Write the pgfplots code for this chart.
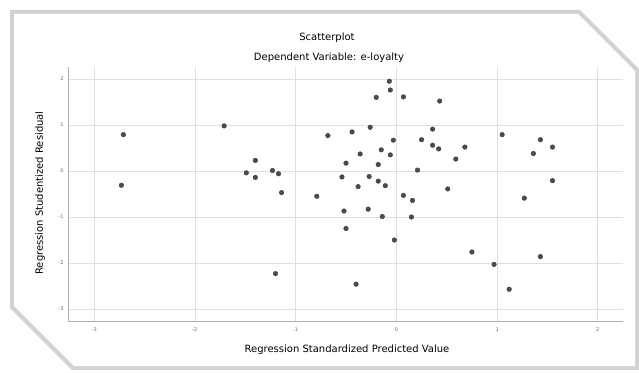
\documentclass[border=0pt]{standalone}
\usepackage{fontspec}
\setmainfont{DejaVu Sans}
\usepackage{pgfplots}
\usepackage{pgfplotstable}
\pgfplotsset{compat=1.18}
\pgfplotstableread{
x y
-2.71 0.79
-2.73 -0.31
-1.71 0.98
-1.40 0.23
-1.49 -0.04
-1.40 -0.14
-1.23 0.01
-1.17 -0.06
-1.14 -0.47
-1.20 -2.23
-0.79 -0.55
-0.68 0.77
-0.44 0.85
-0.50 0.17
-0.54 -0.13
-0.36 0.37
-0.38 -0.34
-0.52 -0.87
-0.50 -1.25
-0.40 -2.46
-0.26 0.95
-0.20 1.60
-0.07 1.95
-0.06 1.76
0.07 1.61
0.43 1.52
-0.03 0.67
-0.15 0.46
-0.06 0.35
-0.18 0.14
-0.27 -0.12
-0.18 -0.22
-0.11 -0.32
-0.28 -0.83
-0.14 -0.99
-0.02 -1.50
0.07 -0.53
0.16 -0.64
0.15 -1.00
0.21 0.02
0.25 0.68
0.36 0.91
0.36 0.56
0.42 0.48
0.51 -0.39
0.59 0.26
0.68 0.52
0.75 -1.76
0.97 -2.03
1.05 0.79
1.12 -2.57
1.27 -0.59
1.36 0.38
1.43 0.68
1.55 0.52
1.55 -0.21
1.43 -1.86
}\residtable
\begin{document}
\begin{tikzpicture}[x=1pt,y=1pt]
\path (0,0) rectangle (639,372);
% card shadow and card
\fill[gray!35] (10,362) -- (580,362) -- (639,303) -- (639,2) -- (72,2) -- (10,64) -- cycle;
\fill[white] (14,358) -- (578,358) -- (635,301) -- (635,6) -- (74,6) -- (14,66) -- cycle;
\begin{axis}[
  at={(68pt,51pt)}, anchor=south west,
  scale only axis, width=555pt, height=254pt,
  xmin=-3.26, xmax=2.25, ymin=-3.26, ymax=2.26,
  axis lines=left, axis line style={-, gray!60, line width=0.8pt},
  grid=major, grid style={gray!25, line width=0.7pt},
  xtick={-3,-2,-1,0,1,2}, ytick={-3,-2,-1,0,1,2},
  major tick length=0pt,
  /pgf/number format/assume math mode=true,
  ticklabel style={font=\fontsize{5}{6}\selectfont, text=gray!80!black},
  xticklabel style={yshift=-3pt},
  yticklabel style={xshift=-1pt},
]
\addplot[only marks, mark=*, mark size=2.3pt,
  mark options={fill=gray!60!black, draw=gray!45!black, line width=0.4pt}]
  table[x=x,y=y] {\residtable};
\end{axis}
\node[font=\fontsize{10}{12}\selectfont] at (327,334) {Scatterplot};
\node[font=\fontsize{10}{12}\selectfont] at (329,314) {Dependent Variable: e-loyalty};
\node[font=\fontsize{10}{12}\selectfont] at (347,22) {Regression Standardized Predicted Value};
\node[font=\fontsize{10}{12}\selectfont, rotate=90] at (40,179) {Regression Studentized Residual};
\end{tikzpicture}
\end{document}
